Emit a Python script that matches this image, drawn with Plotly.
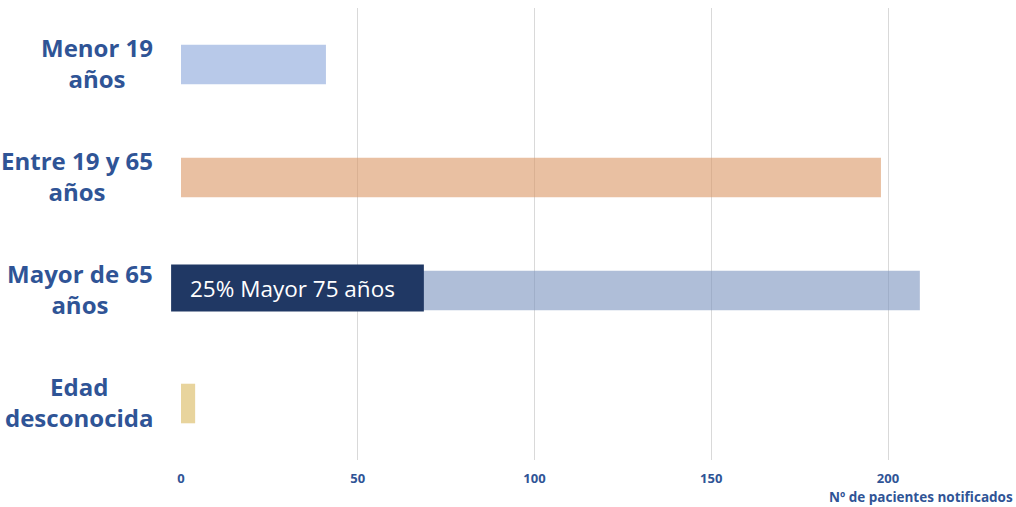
import plotly.graph_objects as go

categories = ["Menor 19<br>años", "Entre 19 y 65<br>años", "Mayor de 65<br>años", "Edad<br>desconocida"]
values = [41, 198, 209, 4]
bar_colors = ["rgba(137,165,218,0.6)", "rgba(218,150,100,0.6)", "rgba(122,147,190,0.6)", "rgba(217,183,92,0.6)"]
tick_vals = [0, 50, 100, 150, 200]
x_range = [0, 236.2]
callout_text = "25% Mayor 75 años"
callout_category = categories[2]
callout_span = [-2.8, 68.7]
axis_title = "Nº de pacientes notificados"

label_color = "#2F5496"

def to_paper(v):
    return (v - x_range[0]) / (x_range[1] - x_range[0])

fig = go.Figure()
fig.add_trace(go.Bar(
    x=values, y=categories, orientation="h",
    marker=dict(color=bar_colors, line=dict(width=0)),
    width=0.35, hoverinfo="skip",
))

for c in categories:
    fig.add_annotation(
        x=0, xref="paper", xshift=-26, xanchor="right",
        y=c, yref="y", yanchor="middle", yshift=2,
        text=f"<b>{c}</b>", showarrow=False, align="center",
        font=dict(family="Open Sans", size=24, color=label_color),
    )

# callout box
fig.add_shape(type="rect", xref="paper", yref="y",
              x0=to_paper(callout_span[0]), x1=to_paper(callout_span[1]),
              y0=1.77, y1=2.186,
              fillcolor="#203864", line=dict(width=0), layer="above")
fig.add_annotation(
    x=2, xref="x", xanchor="left", y=callout_category, yref="y", yshift=2,
    text=callout_text, showarrow=False,
    font=dict(family="Open Sans", size=22.5, color="white"),
)

fig.add_annotation(
    x=1, xref="paper", xanchor="right", xshift=-2,
    y=0, yref="paper", yanchor="middle", yshift=-37, borderpad=0,
    text=f"<b>{axis_title}</b>", showarrow=False,
    font=dict(family="Open Sans", size=13.5, color=label_color),
)

fig.update_layout(
    width=1016, height=507,
    margin=dict(l=181, r=0, t=8, b=47),
    paper_bgcolor="white", plot_bgcolor="white",
    showlegend=False,
    xaxis=dict(
        range=x_range, tickvals=tick_vals, showgrid=True,
        gridcolor="#D9D9D9", gridwidth=1, zeroline=False,
        showline=False, ticks="",
        tickfont=dict(family="Open Sans", size=13, color=label_color, weight="bold"),
        ticklabelstandoff=9,
    ),
    yaxis=dict(
        categoryorder="array", categoryarray=categories,
        autorange="reversed", showticklabels=False,
        showgrid=False, zeroline=False, showline=False,
    ),
)

fig.write_html("out.html")
